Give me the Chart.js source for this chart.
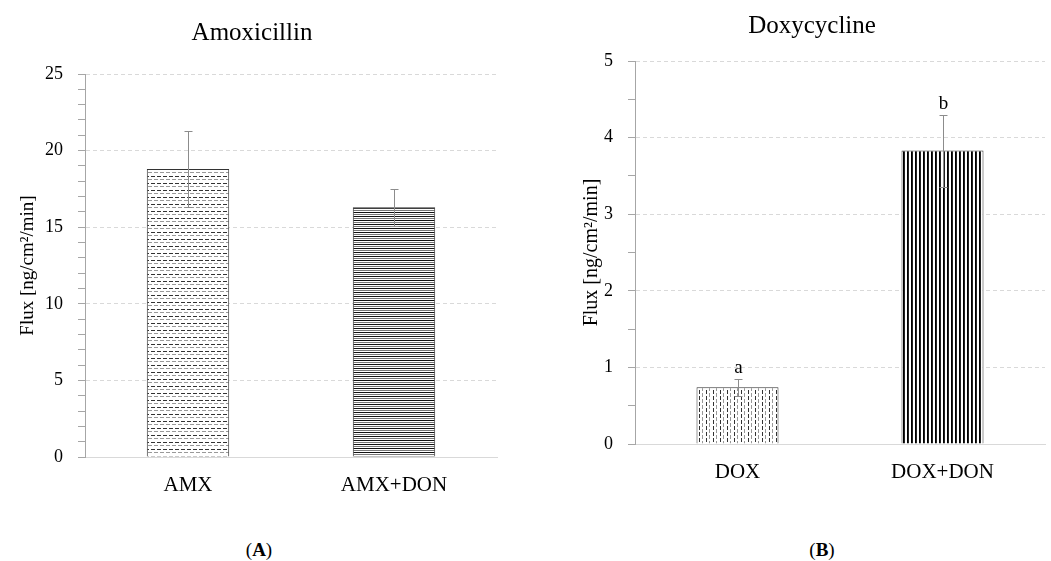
<!DOCTYPE html>
<html>
<head>
<meta charset="utf-8">
<script src="https://cdn.jsdelivr.net/npm/chart.js@4.4.1/dist/chart.umd.min.js"></script>
<style>
  body { margin: 0; background: #fff; width: 1051px; height: 561px; position: relative; overflow: hidden; font-family: "Liberation Serif", serif; }
  #boxA { position: absolute; left: 7px; top: 0; width: 503px; height: 520px; }
  #boxB { position: absolute; left: 579px; top: 0; width: 472px; height: 520px; }
  .panel { position: absolute; top: 540px; width: 100px; margin-left: -50px; text-align: center; font-size: 19px; line-height: 20px; color: #000; }
</style>
</head>
<body>
<div id="boxA"><canvas id="chartA"></canvas></div>
<div id="boxB"><canvas id="chartB"></canvas></div>
<div class="panel" style="left:259px">(<b>A</b>)</div>
<div class="panel" style="left:822px">(<b>B</b>)</div>
<script>
// data
const amxLabels = ['AMX', 'AMX+DON'];
const amxFlux = [18.8, 16.3];
const amxErr = [2.5, 1.2];
const amxMajor = [0, 5, 10, 15, 20, 25];

const doxLabels = ['DOX', 'DOX+DON'];
const doxFlux = [0.74, 3.83];
const doxErr = [0.11, 0.47];
const doxLetters = ['a', 'b'];
const doxMajor = [0, 1, 2, 3, 4, 5];

Chart.defaults.font.family = '"Liberation Serif", serif';

// small repeating tiles to mimic the hatch fills
function makePattern(w, h, draw) {
  const c = document.createElement('canvas');
  c.width = w; c.height = h;
  const g = c.getContext('2d');
  g.fillStyle = '#fff';
  g.fillRect(0, 0, w, h);
  draw(g);
  return g.createPattern(c, 'repeat');
}

const dashH = makePattern(6, 7, g => {
  g.fillStyle = '#333'; g.fillRect(0, 1, 4, 1);
  g.fillStyle = '#999'; g.fillRect(3, 4, 3, 1); g.fillRect(0, 4, 1, 1);
});
const lineH = makePattern(4, 4, g => {
  g.fillStyle = '#111'; g.fillRect(0, 0, 4, 1);
  g.fillStyle = '#777'; g.fillRect(0, 2, 4, 1);
});
const dashV = makePattern(7, 6, g => {
  g.fillStyle = '#333'; g.fillRect(1, 0, 1, 4);
  g.fillStyle = '#999'; g.fillRect(4, 3, 1, 3); g.fillRect(4, 0, 1, 1);
});
const lineV = makePattern(4, 4, g => {
  g.fillStyle = '#000'; g.fillRect(0, 0, 1, 4);
  g.fillStyle = '#222'; g.fillRect(1, 0, 1, 4);
});

const errorBars = {
  id: 'errorBars',
  afterDatasetsDraw(chart, args, opts) {
    const { ctx } = chart;
    const y = chart.scales.y;
    const meta = chart.getDatasetMeta(0);
    const vals = chart.data.datasets[0].data;
    ctx.save();
    meta.data.forEach((bar, i) => {
      const cx = Math.round(bar.x) + 0.5;
      const yTop = Math.round(y.getPixelForValue(vals[i] + opts.errors[i])) + 0.5;
      const yBot = Math.round(y.getPixelForValue(vals[i] - opts.errors[i])) + 0.5;
      ctx.strokeStyle = '#8c8c8c';
      ctx.lineWidth = 1;
      ctx.beginPath();
      ctx.moveTo(cx, yTop); ctx.lineTo(cx, yBot);
      ctx.moveTo(cx - 4, yTop); ctx.lineTo(cx + 4, yTop);
      ctx.moveTo(cx - 4, yBot); ctx.lineTo(cx + 4, yBot);
      ctx.stroke();
      if (opts.letters && opts.letters[i]) {
        ctx.fillStyle = '#000';
        ctx.font = '19px "Liberation Serif"';
        ctx.textAlign = 'center';
        ctx.textBaseline = 'alphabetic';
        ctx.fillText(opts.letters[i], cx, yTop - 7);
      }
    });
    ctx.restore();
  }
};

function makeChart(id, o) {
  return new Chart(document.getElementById(id), {
    type: 'bar',
    data: {
      labels: o.labels,
      datasets: [{
        data: o.values,
        backgroundColor: o.fills,
        borderColor: '#333',
        borderWidth: 1,
        barPercentage: 0.4,
        categoryPercentage: 1
      }]
    },
    options: {
      responsive: true,
      maintainAspectRatio: false,
      animation: false,
      layout: { padding: { left: 0, right: o.padRight, top: 0, bottom: o.padBottom } },
      plugins: {
        legend: { display: false },
        tooltip: { enabled: false },
        title: {
          display: true, text: o.title, color: '#000',
          font: { size: 25, weight: 'normal' },
          padding: o.titlePad
        },
        errorBars: { errors: o.errors, letters: o.letters }
      },
      scales: {
        x: {
          grid: { display: false, drawTicks: false },
          border: { color: '#d9d9d9' },
          ticks: { color: '#000', font: { size: 21 }, padding: 16 },
          afterFit: s => { s.height = 50; }
        },
        y: {
          min: 0,
          max: o.max,
          ticks: {
            stepSize: o.step, autoSkip: false, color: '#000',
            font: { size: 18 }, padding: 15,
            callback: v => o.major.includes(v) ? v : ''
          },
          grid: {
            color: c => (c.tick && c.tick.value !== 0 && o.major.includes(c.tick.value)) ? '#d9d9d9' : 'rgba(0,0,0,0)',
            tickColor: '#a6a6a6',
            tickLength: 7
          },
          border: { color: '#a6a6a6', dash: [4, 3] },
          title: {
            display: true, text: 'Flux [ng/cm²/min]', color: '#000',
            font: { size: o.yTitleSize }, padding: { top: o.yTitlePad, bottom: 0 }
          },
          afterFit: s => { s.width = o.yWidth; }
        }
      }
    },
    plugins: [errorBars]
  });
}

makeChart('chartA', {
  labels: amxLabels, values: amxFlux, errors: amxErr, letters: null,
  fills: [dashH, lineH], title: 'Amoxicillin',
  max: 25, step: 1, major: amxMajor,
  padRight: 13, padBottom: 13, titlePad: { top: 18, bottom: 26 },
  yWidth: 78, yTitlePad: 10, yTitleSize: 19
});

makeChart('chartB', {
  labels: doxLabels, values: doxFlux, errors: doxErr, letters: doxLetters,
  fills: [dashV, lineV], title: 'Doxycycline',
  max: 5, step: 0.5, major: doxMajor,
  padRight: 6, padBottom: 26, titlePad: { top: 11, bottom: 20 },
  yWidth: 56, yTitlePad: 1, yTitleSize: 20
});
</script>
</body>
</html>
